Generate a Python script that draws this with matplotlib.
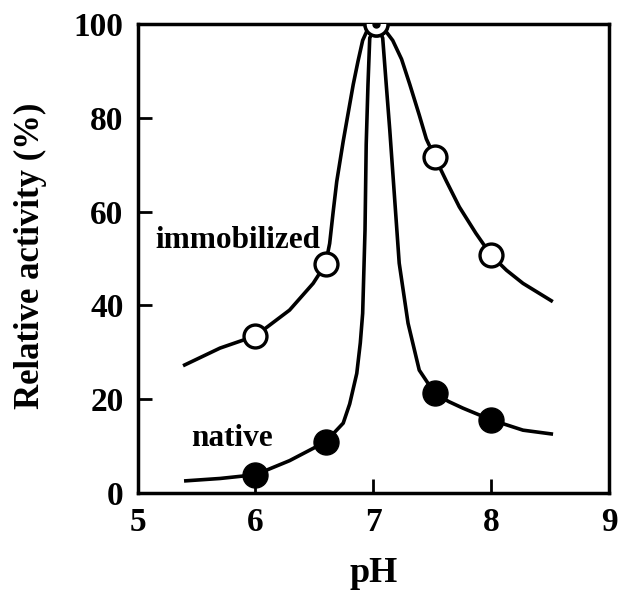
import matplotlib.pyplot as plt

# measured points
ph = [6.0, 6.6, 7.025, 7.525, 8.0]
immobilized = [33.5, 48.8, 100, 71.7, 50.7]
native = [3.9, 10.9, 100, 21.3, 15.6]

# fitted curves
imm_curve_x = [5.40, 5.70, 6.00, 6.29, 6.49, 6.595, 6.63, 6.66, 6.69, 6.745, 6.78, 6.83,
               6.87, 6.91, 6.96, 7.025, 7.09, 7.165, 7.24, 7.31, 7.39, 7.45, 7.52, 7.62,
               7.73, 7.87, 8.0, 8.13, 8.27, 8.51]
imm_curve_y = [27.3, 30.9, 33.5, 39.0, 44.7, 48.8, 53.2, 60.0, 66.4, 75.0, 80.0, 87.1,
               92.0, 96.5, 99.3, 100, 99.0, 96.5, 92.5, 87.1, 80.6, 75.5, 71.7, 66.5,
               61.0, 55.4, 50.7, 47.5, 44.7, 41.0]
nat_curve_x = [5.41, 5.70, 6.0, 6.29, 6.595, 6.745, 6.80, 6.86, 6.89, 6.91, 6.93, 6.94,
               6.955, 6.97, 7.025, 7.08, 7.11, 7.14, 7.18, 7.22, 7.295, 7.39, 7.52, 7.64,
               7.76, 8.0, 8.27, 8.51]
nat_curve_y = [2.6, 3.1, 3.9, 6.9, 10.9, 14.9, 19.0, 25.5, 32.0, 38.3, 56.1, 74.3,
               87.0, 97.0, 100, 97.0, 87.1, 77.4, 63.2, 49.0, 36.2, 26.2, 21.3, 19.5,
               18.1, 15.6, 13.4, 12.6]

plt.rcParams['font.family'] = ['Liberation Serif', 'DejaVu Serif']
plt.rcParams['font.weight'] = 'bold'

fig = plt.figure(figsize=(6.18, 5.94), dpi=100)
ax = fig.add_axes([0.2225, 0.170, 0.763, 0.7896])

ax.plot(imm_curve_x, imm_curve_y, color='black', lw=2.6, solid_joinstyle='round')
ax.plot(nat_curve_x, nat_curve_y, color='black', lw=2.6, solid_joinstyle='round')

ax.plot(ph, native, 'o', color='black', ms=18, zorder=3)
ax.plot(ph, immobilized, 'o', mfc='white', mec='black', mew=2.4, ms=16.5, zorder=4)
ax.plot(ph[2], native[2], 'o', color='black', ms=5, zorder=5)

ax.text(5.85, 53.9, 'immobilized', fontsize=22.5, fontweight='bold', ha='center', va='center')
ax.text(5.80, 11.7, 'native', fontsize=22.5, fontweight='bold', ha='center', va='center')

ax.set_xlim(5, 9)
ax.set_ylim(0, 100)
ax.set_xticks([5, 6, 7, 8, 9])
ax.set_yticks([0, 20, 40, 60, 80, 100])
ax.tick_params(direction='in', length=10, width=2, labelsize=24, pad=10)
for lab in ax.get_xticklabels() + ax.get_yticklabels():
    lab.set_fontweight('bold')
for s in ax.spines.values():
    s.set_linewidth(2.5)

ax.set_xlabel('pH', fontsize=26, fontweight='bold', va='center')
ax.set_ylabel('Relative activity (%)', fontsize=25, fontweight='bold', va='center')
ax.xaxis.set_label_coords(0.5, -0.171)
ax.yaxis.set_label_coords(-0.228, 0.505)

fig.savefig('out.png', dpi=100)
